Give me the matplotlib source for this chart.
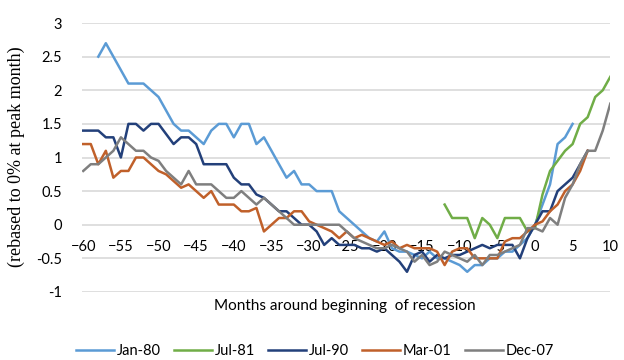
"""
recession_paths.py

plots the path of the series around the start of each recession,
rebased to 0% at the peak month. months run from -60 to +10
"""
import numpy as np
import matplotlib.pyplot as plt

# months around beginning of recession for each episode
months_jan80 = np.arange(-58, 6)
months_jul81 = np.arange(-12, 11)
months_jul90 = np.arange(-60, 8)
months_mar01 = np.arange(-60, 8)
months_dec07 = np.arange(-60, 11)

jan80 = [2.5, 2.7, 2.5, 2.3, 2.1, 2.1, 2.1, 2.0, 1.9, 1.7,
         1.5, 1.4, 1.4, 1.3, 1.2, 1.4, 1.5, 1.5, 1.3, 1.5,
         1.5, 1.2, 1.3, 1.1, 0.9, 0.7, 0.8, 0.6, 0.6, 0.5,
         0.5, 0.5, 0.2, 0.1, 0.0, -0.1, -0.2, -0.25, -0.1, -0.35,
         -0.4, -0.4, -0.45, -0.5, -0.4, -0.5, -0.5, -0.55, -0.6, -0.7,
         -0.6, -0.6, -0.5, -0.5, -0.4, -0.4, -0.3, -0.2, 0.0, 0.3,
         0.6, 1.2, 1.3, 1.5]

jul81 = [0.3, 0.1, 0.1, 0.1, -0.2, 0.1, 0.0, -0.2, 0.1, 0.1,
         0.1, -0.1, -0.05, 0.45, 0.8, 0.95, 1.1, 1.2, 1.5, 1.6,
         1.9, 2.0, 2.2]

jul90 = [1.4, 1.4, 1.4, 1.3, 1.3, 1.0, 1.5, 1.5, 1.4, 1.5,
         1.5, 1.35, 1.2, 1.3, 1.3, 1.2, 0.9, 0.9, 0.9, 0.9,
         0.7, 0.6, 0.6, 0.45, 0.4, 0.3, 0.2, 0.2, 0.1, 0.0,
         0.0, -0.1, -0.3, -0.2, -0.3, -0.3, -0.3, -0.35, -0.35, -0.4,
         -0.35, -0.45, -0.55, -0.7, -0.45, -0.4, -0.55, -0.45, -0.5, -0.45,
         -0.45, -0.4, -0.35, -0.3, -0.35, -0.3, -0.3, -0.3, -0.5, -0.2,
         0.0, 0.2, 0.2, 0.5, 0.6, 0.7, 0.9, 1.1]

mar01 = [1.2, 1.2, 0.9, 1.1, 0.7, 0.8, 0.8, 1.0, 1.0, 0.9,
         0.8, 0.75, 0.65, 0.55, 0.6, 0.5, 0.4, 0.5, 0.3, 0.3,
         0.3, 0.2, 0.2, 0.25, -0.1, 0.0, 0.1, 0.1, 0.2, 0.2,
         0.05, 0.0, -0.05, -0.1, -0.2, -0.1, -0.2, -0.15, -0.2, -0.25,
         -0.3, -0.25, -0.35, -0.3, -0.35, -0.35, -0.35, -0.4, -0.6, -0.4,
         -0.35, -0.35, -0.5, -0.5, -0.5, -0.5, -0.25, -0.2, -0.2, -0.1,
         0.0, 0.05, 0.2, 0.3, 0.5, 0.6, 0.8, 1.1]

dec07 = [0.8, 0.9, 0.9, 1.0, 1.1, 1.3, 1.2, 1.1, 1.1, 1.0,
         0.95, 0.8, 0.7, 0.6, 0.8, 0.6, 0.6, 0.6, 0.5, 0.4,
         0.4, 0.5, 0.4, 0.3, 0.4, 0.3, 0.2, 0.1, 0.0, 0.0,
         0.0, 0.0, 0.0, 0.0, 0.0, -0.1, -0.2, -0.25, -0.3, -0.35,
         -0.35, -0.3, -0.35, -0.4, -0.55, -0.45, -0.6, -0.55, -0.4, -0.45,
         -0.5, -0.55, -0.45, -0.6, -0.45, -0.45, -0.4, -0.35, -0.3, -0.05,
         -0.05, -0.1, 0.1, 0.0, 0.4, 0.6, 0.9, 1.1, 1.1, 1.4,
         1.8]

labels = ['Jan-80', 'Jul-81', 'Jul-90', 'Mar-01', 'Dec-07']
colors = ['#5B9BD5', '#70AD47', '#23407A', '#C0602A', '#7F7F7F']

xticks = np.arange(-60, 11, 5)
yticks = [-1, -0.5, 0, 0.5, 1, 1.5, 2, 2.5, 3]

plt.rcParams['font.family'] = ['Lato', 'DejaVu Sans']

fig = plt.figure(figsize=(6.24, 3.6), dpi=100)
ax = fig.add_axes([0.131, 0.189, 0.847, 0.747])

series = [(months_jan80, jan80), (months_jul81, jul81), (months_jul90, jul90),
          (months_mar01, mar01), (months_dec07, dec07)]
for (mx, vals), lab, col in zip(series, labels, colors):
    ax.plot(mx, vals, color=col, lw=1.8, label=lab, solid_joinstyle='round')

ax.set_xlim(-60.2, 10)
ax.set_ylim(-1, 3)
ax.set_yticks(yticks)
ax.set_yticklabels(['-1', '-0.5', '0', '0.5', '1', '1.5', '2', '2.5', '3'])
ax.set_xticks(xticks)
ax.grid(axis='y', color='#D9D9D9', lw=1.2)
ax.set_axisbelow(True)

# x labels sit next to the zero line like in excel
ax.spines['bottom'].set_position(('data', 0))
for s in ['top', 'right', 'left', 'bottom']:
    ax.spines[s].set_visible(False)
ax.tick_params(axis='both', length=0, labelsize=10.5, colors='#000000')
ax.tick_params(axis='y', pad=14)
ax.tick_params(axis='x', pad=11)

fig.text(0.553, 1 - 306 / 360, 'Months around beginning  of recession',
         ha='center', va='center', fontsize=11)
fig.text(0.026, 1 - 157 / 360, '(rebased to 0% at peak month)',
         rotation=90, ha='center', va='center', fontsize=13,
         family=['Liberation Serif', 'DejaVu Serif'])

fig.legend(loc='center', bbox_to_anchor=(0.505, 1 - 351 / 360), ncol=5,
           frameon=False, fontsize=10.5, handlelength=2.6,
           columnspacing=0.9, handletextpad=0.2)

plt.savefig('out.png', dpi=100)
